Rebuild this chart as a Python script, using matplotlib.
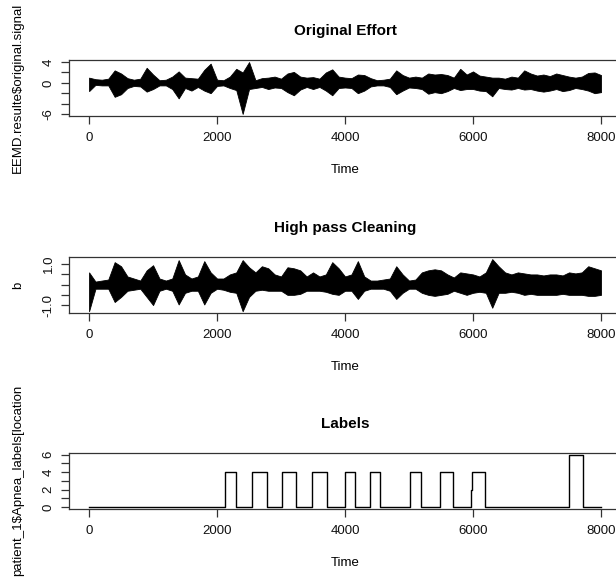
import numpy as np
import matplotlib.pyplot as plt

plt.rcParams['font.family'] = ['Liberation Sans', 'DejaVu Sans']

# 时间轴：每 100 个点读一次包络
time_grid = np.arange(0, 8001, 100)

# 原始信号的上下包络
orig_upper = [1.0, 0.7, 0.6, 0.8, 2.4, 1.8, 0.9, 0.6, 0.8, 2.9,
              1.6, 0.5, 0.6, 1.2, 2.2, 1.0, 0.9, 0.8, 2.5, 3.7,
              0.6, 0.5, 1.2, 2.7, 2.0, 4.0, 0.5, 0.9, 1.0, 1.2,
              0.8, 1.8, 2.1, 1.2, 1.0, 1.1, 0.8, 2.0, 2.6, 1.2,
              1.0, 0.9, 1.6, 1.5, 0.9, 0.5, 0.6, 0.8, 2.4, 1.5,
              1.0, 1.2, 1.0, 1.8, 1.6, 1.7, 1.5, 1.0, 2.7, 1.6,
              2.2, 1.4, 1.2, 1.0, 1.0, 0.8, 1.2, 1.0, 2.4, 1.8,
              1.4, 1.6, 1.3, 1.8, 1.5, 1.2, 1.0, 1.2, 1.9, 2.0,
              1.5]
orig_lower = [-1.6, -0.4, -0.5, -0.5, -2.7, -2.2, -1.0, -0.6, -0.7, -1.7,
              -1.2, -0.5, -0.5, -1.2, -3.0, -1.0, -1.5, -0.8, -1.5, -2.0,
              -0.6, -0.5, -1.0, -1.4, -6.0, -1.2, -1.0, -0.8, -1.2, -0.9,
              -1.0, -1.8, -2.4, -1.3, -0.8, -1.2, -0.8, -1.5, -2.4, -1.0,
              -0.9, -1.0, -2.0, -1.5, -0.7, -0.5, -0.5, -0.8, -2.2, -1.5,
              -0.9, -1.0, -1.2, -2.1, -1.8, -2.0, -1.6, -1.0, -1.4, -1.2,
              -1.2, -1.5, -1.6, -2.6, -1.0, -1.2, -1.3, -1.0, -1.3, -1.2,
              -1.5, -1.7, -1.5, -1.2, -1.6, -1.4, -1.0, -1.2, -1.5, -2.0,
              -1.8]

# 高通滤波后信号的上下包络
hp_upper = [0.6, 0.15, 0.2, 0.25, 1.1, 0.9, 0.4, 0.3, 0.2, 0.7,
            0.95, 0.3, 0.2, 0.3, 1.2, 0.5, 0.3, 0.4, 1.15, 0.6,
            0.3, 0.3, 0.5, 0.6, 1.2, 0.85, 0.6, 0.9, 0.8, 0.5,
            0.4, 0.85, 0.8, 0.7, 0.4, 0.6, 0.4, 0.5, 1.1, 0.8,
            0.4, 0.5, 1.15, 0.4, 0.2, 0.2, 0.25, 0.3, 0.9, 0.5,
            0.2, 0.25, 0.6, 0.7, 0.75, 0.7, 0.5, 0.35, 0.6, 0.55,
            0.5, 0.4, 0.6, 1.25, 0.9, 0.6, 0.5, 0.6, 0.55, 0.5,
            0.5, 0.45, 0.5, 0.5, 0.45, 0.6, 0.55, 0.6, 0.9, 0.8,
            0.7]
hp_lower = [-1.3, -0.2, -0.2, -0.2, -0.85, -0.6, -0.3, -0.25, -0.2, -0.6,
            -1.0, -0.3, -0.2, -0.3, -0.97, -0.4, -0.3, -0.3, -0.97, -0.4,
            -0.2, -0.25, -0.35, -0.4, -1.3, -0.6, -0.3, -0.25, -0.3, -0.3,
            -0.3, -0.5, -0.5, -0.45, -0.3, -0.3, -0.3, -0.35, -0.45, -0.5,
            -0.3, -0.3, -0.7, -0.3, -0.2, -0.2, -0.2, -0.3, -0.7, -0.4,
            -0.2, -0.2, -0.4, -0.5, -0.55, -0.5, -0.45, -0.3, -0.4, -0.5,
            -0.4, -0.35, -0.4, -1.13, -0.4, -0.4, -0.35, -0.4, -0.5, -0.45,
            -0.5, -0.5, -0.5, -0.5, -0.45, -0.5, -0.5, -0.5, -0.55, -0.55,
            -0.5]

# 呼吸暂停标签（阶跃变化点）
label_times = [0, 2125, 2300, 2540, 2780, 3020, 3235, 3475, 3720, 4000,
               4155, 4380, 4550, 5005, 5190, 5485, 5680, 5960, 5980, 6185,
               7490, 7710, 7995]
label_values = [0, 4, 0, 4, 0, 4, 0, 4, 0, 4,
                0, 4, 0, 4, 0, 4, 0, 2, 4, 0,
                6, 0, 0]

x_ticks = [0, 2000, 4000, 6000, 8000]

W, H = 616, 579
fig = plt.figure(figsize=(W / 100, H / 100), dpi=100)

# 每个面板的盒子位置（像素）：top, bottom
boxes = [(60, 116), (257, 313.3), (452.7, 509)]
left_px, right_px = 68.6, 621.5

axes = []
for top, bottom in boxes:
    ax = fig.add_axes([left_px / W, 1 - bottom / H,
                       (right_px - left_px) / W, (bottom - top) / H])
    axes.append(ax)

ax1, ax2, ax3 = axes

# 信号很密，用上下包络填充表示
ax1.fill_between(time_grid, orig_lower, orig_upper, color='black', lw=0.6)
ax2.fill_between(time_grid, hp_lower, hp_upper, color='black', lw=0.6)
ax3.plot(label_times, label_values, color='black', lw=1.0,
         drawstyle='steps-post')

titles = ['Original Effort', 'High pass Cleaning', 'Labels']
ylabels = ['EEMD.resulte$original.signal', 'b',
           'patient_1$Apnea_labels[location']
yticks = [[-6, -4, -2, 0, 2, 4], [-1.0, -0.5, 0.0, 0.5, 1.0],
          [0, 1, 2, 3, 4, 5, 6]]
yticklabels = [['-6', '', '', '0', '', '4'], ['-1.0', '', '', '', '1.0'],
               ['0', '', '2', '', '4', '', '6']]

for ax, title, ylab, yt, ytl in zip(axes, titles, ylabels, yticks, yticklabels):
    ax.margins(x=0.04, y=0.04)
    ax.set_xticks(x_ticks)
    ax.set_xticklabels([str(t) for t in x_ticks])
    ax.set_yticks(yt)
    ax.set_yticklabels(ytl, rotation=90, va='center')
    for sp in ax.spines.values():
        sp.set_color('#333333')
        sp.set_linewidth(0.9)
    ax.tick_params(axis='both', length=6, width=0.9, color='#333333',
                   labelsize=9.5, labelcolor='#111111')
    ax.tick_params(axis='x', pad=5.5)
    ax.tick_params(axis='y', pad=4)
    ax.annotate(title, xy=(0.5, 1), xycoords='axes fraction',
                xytext=(0, 29), textcoords='offset pixels',
                ha='center', va='center', fontsize=11, fontweight='bold')
    ax.annotate('Time', xy=(0.5, 0), xycoords='axes fraction',
                xytext=(0, -54), textcoords='offset pixels',
                ha='center', va='center', fontsize=9.5)
    ax.annotate(ylab, xy=(0, 0.5), xycoords='axes fraction',
                xytext=(18 - left_px, 0), textcoords='offset pixels',
                ha='center', va='center', rotation=90, fontsize=9.5)

fig.savefig('out.png', dpi=100)
